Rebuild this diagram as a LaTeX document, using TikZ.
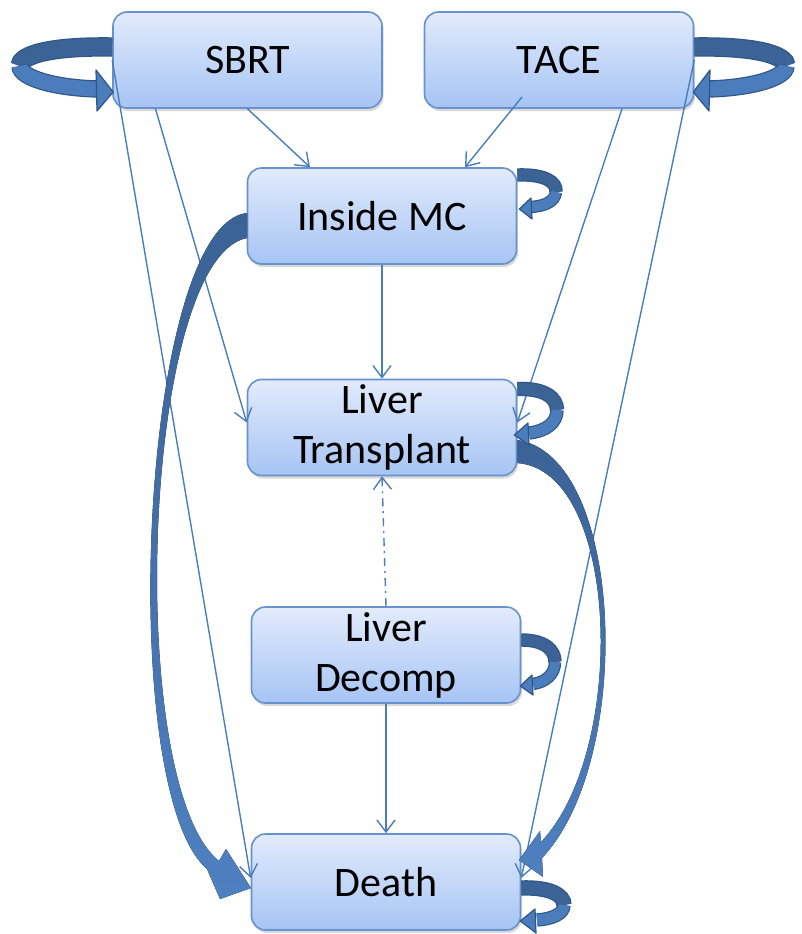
\documentclass[tikz,border=0pt]{standalone}
\usepackage{fontspec}
\setmainfont{Carlito}
\usetikzlibrary{arrows.meta,calc,shadows}

\definecolor{boxtop}{HTML}{E2EBFC}
\definecolor{boxbot}{HTML}{A6C4F4}
\definecolor{boxline}{HTML}{6892CB}
\definecolor{thinblue}{HTML}{4A7EBB}
\definecolor{bandback}{HTML}{3B6396}
\definecolor{bandfront}{HTML}{4B7CBC}
\definecolor{bandline}{HTML}{2F5686}
\definecolor{curvetop}{HTML}{3A6295}
\definecolor{curvebot}{HTML}{4E80C0}

\begin{document}
\begin{tikzpicture}[x=1pt,y=-1pt,
  box/.style={rectangle, rounded corners=14pt, draw=boxline, line width=1.6pt,
    top color=boxtop, bottom color=boxbot, minimum width=269pt, minimum height=96pt,
    inner sep=0pt, align=center, font=\fontsize{42}{50}\selectfont,
    drop shadow={shadow xshift=1.5pt, shadow yshift=-3pt, opacity=0.25, fill=black!60}},
  link/.style={draw=thinblue, line width=1.4pt,
    -{Straight Barb[length=12pt,width=18pt,line width=1.4pt]}},
  dashdotlink/.style={link, dash pattern=on 8pt off 5pt on 2pt off 5pt},
  backband/.style={draw=bandline, line width=1.2pt, double=bandback, double distance=#1},
  frontband/.style={draw=bandline, line width=1.2pt, double=bandfront, double distance=#1},
  headfill/.style={fill=bandfront, draw=bandline, line width=1.2pt, line join=round},
  bigcurve/.style={top color=curvetop, bottom color=curvebot}
]
\useasboundingbox (0,0) rectangle (801,934);

% states
\node[box] (sbrt)  at (247.5,60)  {SBRT};
\node[box] (tace)  at (559,60)    {TACE};
\node[box] (imc)   at (382,216)   {Inside MC};
\node[box] (lt)    at (382,427.5) {Liver\\Transplant};
\node[box] (ld)    at (386,655)   {Liver\\Decomp};
\node[box] (death) at (386,882)   {Death};

% thin transitions
\draw[link] (sbrt.south) -- ($(imc.north)+(-72,0)$);
\draw[link] ($(tace.center)+(-37,37)$) -- ($(imc.north)+(83,0)$);
\draw[link] ($(sbrt.south)+(-92,0)$) -- ($(lt.west)+(0,-5)$);
\draw[link] (sbrt.west) -- ($(death.west)+(0,-4)$);
\draw[link] ($(tace.south)+(63,0)$) -- ($(lt.east)+(0,-5)$);
\draw[link] (tace.east) -- ($(death.east)+(0,-4)$);
\draw[link] (imc.south) -- (lt.north);
\draw[dashdotlink] (ld.north) -- (lt.south);
\draw[link] (ld.south) -- (death.north);

% wide tapered curved transitions into Death
\fill[bigcurve] (247,213) .. controls (140,225) and (115,790) .. (207,869)
  -- (220,899) -- (251,888) -- (226,849) -- (219,861)
  .. controls (124,785) and (142,258) .. (247,238) -- cycle;
\fill[bigcurve] (517,440) .. controls (625,455) and (635,760) .. (542,858)
  -- (543,877) -- (519,860) -- (540,831) -- (541,842)
  .. controls (628,750) and (620,470) .. (517,463) -- cycle;

% self loops
\draw[backband=17pt] ($(sbrt.west)+(0,-13)$) .. controls (50,46) and (20,55) .. (20,66);
\draw[frontband=15pt] (20,66) .. controls (20,78) and (55,88) .. (98,89);
\draw[headfill] (96,70) -- ($(sbrt.west)+(1,32)$) -- (97,111) -- cycle;

\draw[backband=17pt] ($(tace.east)+(0,-13)$) .. controls (756,46) and (786,55) .. (786,66);
\draw[frontband=15pt] (786,66) .. controls (786,78) and (751,88) .. (708,89);
\draw[headfill] (710,70) -- ($(tace.east)+(-1,32)$) -- (709,111) -- cycle;

\draw[backband=11pt] ($(imc.east)+(0,-41)$) .. controls (545,174) and (557,182) .. (556,192);
\draw[frontband=10pt] (556,192) .. controls (555,201) and (546,206) .. (531,207);
\draw[headfill] (531,198) -- ($(imc.east)+(2,-7)$) -- (532,219) -- cycle;

\draw[backband=12pt] ($(lt.east)+(0,-38.5)$) .. controls (545,388) and (557,398) .. (557,410);
\draw[frontband=11pt] (557,410) .. controls (557,423) and (546,431) .. (529,433);
\draw[headfill] (528,423) -- ($(lt.east)+(-3,7.5)$) -- (529,445) -- cycle;

\draw[backband=11pt] ($(ld.east)+(0,-15)$) .. controls (545,640) and (555,650) .. (555,662);
\draw[frontband=10pt] (555,662) .. controls (555,674) and (546,682) .. (533,684);
\draw[headfill] (532,675) -- ($(ld.east)+(-1,31)$) -- (533,695) -- cycle;

\draw[backband=13pt] ($(death.east)+(0,6)$) .. controls (550,887) and (564,895) .. (564,905);
\draw[frontband=11pt] (564,905) .. controls (564,914) and (552,919) .. (537,920);
\draw[headfill] (535,909) -- ($(death.east)+(-1,39)$) -- (536,933) -- cycle;
\end{tikzpicture}
\end{document}
